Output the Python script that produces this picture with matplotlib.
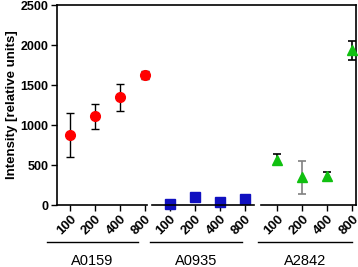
import matplotlib.pyplot as plt
import numpy as np

plt.rcParams['font.family'] = ['Liberation Sans', 'DejaVu Sans']

# data
doses = ['100', '200', '400', '800']
groups = ['A0159', 'A0935', 'A2842']
a0159 = [880, 1110, 1345, 1625]
a0159_err = [275, 157, 163, 45]
a0935 = [12, 105, 38, 80]
a0935_err = [10, 15, 10, 10]
a2842 = [565, 345, 365, 1935]
a2842_err = [70, 210, 50, 120]

xpos = [np.arange(4), np.arange(4) + 4.0, np.arange(4) + 8.3]

fig = plt.figure(figsize=(3.58, 2.67), dpi=100)
ax = fig.add_axes([0.159, 0.232, 0.835, 0.749])

ax.errorbar(xpos[0], a0159, yerr=a0159_err, fmt='o', color='red', ms=7,
            ecolor='black', elinewidth=1, capsize=3, capthick=1, clip_on=False, zorder=3)
ax.errorbar(xpos[1], a0935, yerr=a0935_err, fmt='s', color='#1010c0', ms=6.5,
            ecolor='black', elinewidth=1, capsize=3, capthick=1, clip_on=False, zorder=3)
ecols = ['black', 'grey', 'black', 'black']
for i in range(4):
    ax.errorbar(xpos[2][i], a2842[i], yerr=a2842_err[i], fmt='^', color='#10c010', ms=7,
                ecolor=ecols[i], elinewidth=1.2, capsize=3, capthick=1.2, clip_on=False, zorder=3)

ax.set_xlim(-0.52, 11.44)
ax.set_ylim(0, 2500)
ax.set_yticks([0, 500, 1000, 1500, 2000, 2500])
ax.set_xticks(np.concatenate(xpos))
ax.set_xticklabels(doses * 3, rotation=45, ha='right', va='top', rotation_mode='anchor',
                   fontweight='bold', fontsize=9.5)
for lab in ax.get_yticklabels():
    lab.set_fontweight('bold')
    lab.set_fontsize(9)
ax.tick_params(direction='out', length=4, width=1, pad=2)
ax.tick_params(axis='x', pad=2)
ax.set_ylabel('Intensity [relative units]', fontweight='bold', fontsize=9.5, labelpad=2)

for s in ['left', 'top', 'right']:
    ax.spines[s].set_linewidth(1.2)
ax.spines['bottom'].set_visible(False)

# broken x axis segments
segs = [(-0.52, 3.1), (3.3, 7.35), (7.65, 11.44)]
for a, b in segs:
    ax.plot([a, b], [0, 0], color='black', lw=1.2, clip_on=False, zorder=4)

# group lines and labels below
trans = ax.get_xaxis_transform()
lines = [(-0.92, 2.72), (3.2, 6.88), (7.52, 11.28)]
for (a, b), g in zip(lines, groups):
    ax.plot([a, b], [-0.186, -0.186], color='black', lw=1, transform=trans, clip_on=False)
    ax.text((a + b) / 2, -0.245, g, transform=trans, ha='center', va='top', fontsize=10.5)

fig.savefig('out.png', dpi=100)
